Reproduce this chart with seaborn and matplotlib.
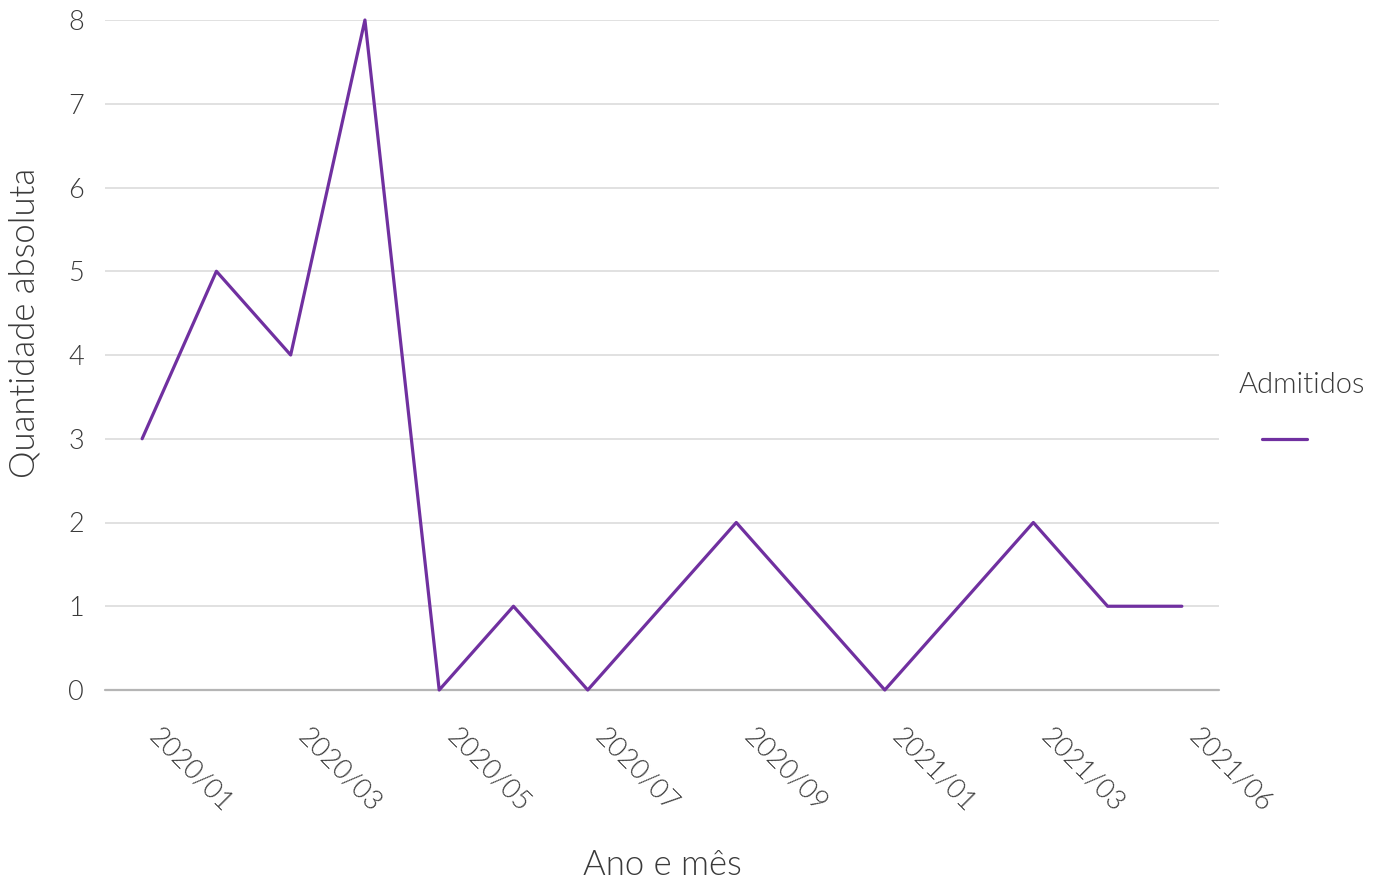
import pandas as pd
import matplotlib
matplotlib.use("Agg")
import matplotlib.pyplot as plt
import matplotlib.transforms as mtransforms
import seaborn as sns

# monthly values
months = ['2020/01', '2020/02', '2020/03', '2020/04', '2020/05', '2020/06', '2020/07',
          '2020/08', '2020/09', '2020/11', '2021/01', '2021/02', '2021/03', '2021/04', '2021/06']
admitidos = [3, 5, 4, 8, 0, 1, 0, 1, 2, 1, 0, 1, 2, 1, 1]
shown_ticks = ['2020/01', '2020/03', '2020/05', '2020/07', '2020/09', '2021/01', '2021/03', '2021/06']

df = pd.DataFrame({'mes': months, 'qtd': admitidos, 'serie': 'Admitidos'})
df['pos'] = range(len(df))

sns.set_style("white")
plt.rcParams['font.family'] = ['Lato', 'DejaVu Sans']
plt.rcParams['font.weight'] = 300
plt.rcParams['axes.labelweight'] = 300

text_color = '#3a3a3a'

fig = plt.figure(figsize=(13.8, 8.83), dpi=100)
ax = fig.add_axes([105 / 1380, 1 - 690 / 883, (1219 - 105) / 1380, (690 - 20) / 883])

sns.lineplot(data=df, x='pos', y='qtd', hue='serie', palette=['#7030a0'],
             linewidth=2.3, ax=ax, legend=True)

ax.set_xlim(-0.5, len(months) - 0.5)
ax.set_ylim(0, 8)
ax.set_yticks(range(0, 9))
ax.yaxis.grid(True, color='#dcdcdc', linewidth=1.2)
ax.axhline(0, color='#b5b5b5', linewidth=1.6, zorder=1)
for s in ax.spines.values():
    s.set_visible(False)
for line in ax.lines:
    line.set_clip_on(False)

pos = [months.index(m) for m in shown_ticks]
ax.set_xticks(pos)
ax.tick_params(axis='both', length=0, labelsize=19.5, labelcolor=text_color)
ax.tick_params(axis='x', pad=24.5)
ax.tick_params(axis='y', pad=15)
ax.set_xticklabels(shown_ticks, rotation=-45, ha='left', va='top', rotation_mode='anchor')
# nudge the rotated labels to the right (tick_params would reset this, so do it last)
shift = mtransforms.ScaledTranslation(20 / 100, 0, fig.dpi_scale_trans)
for lbl in ax.get_xticklabels():
    lbl.set_transform(lbl.get_transform() + shift)

ax.set_xlabel('Ano e mês', fontsize=25, color=text_color)
ax.xaxis.set_label_coords(0.5, (690 - 865) / 670)
ax.xaxis.label.set_va('center')
ax.set_ylabel('Quantidade absoluta', fontsize=25, color=text_color)
ax.yaxis.set_label_coords((25 - 105) / 1114, (690 - 323) / 670)
ax.yaxis.label.set_va('center')

leg = ax.legend(title='Admitidos', loc='center left', bbox_to_anchor=(0.994, 0.413),
                frameon=False, handlelength=1.55, handletextpad=1.2, fontsize=21,
                title_fontsize=21, labelspacing=1.05)
for t in leg.get_texts():
    t.set_text('')
leg.get_title().set_color(text_color)
leg.get_title().set_fontweight(300)

fig.savefig('out.png', dpi=100)
